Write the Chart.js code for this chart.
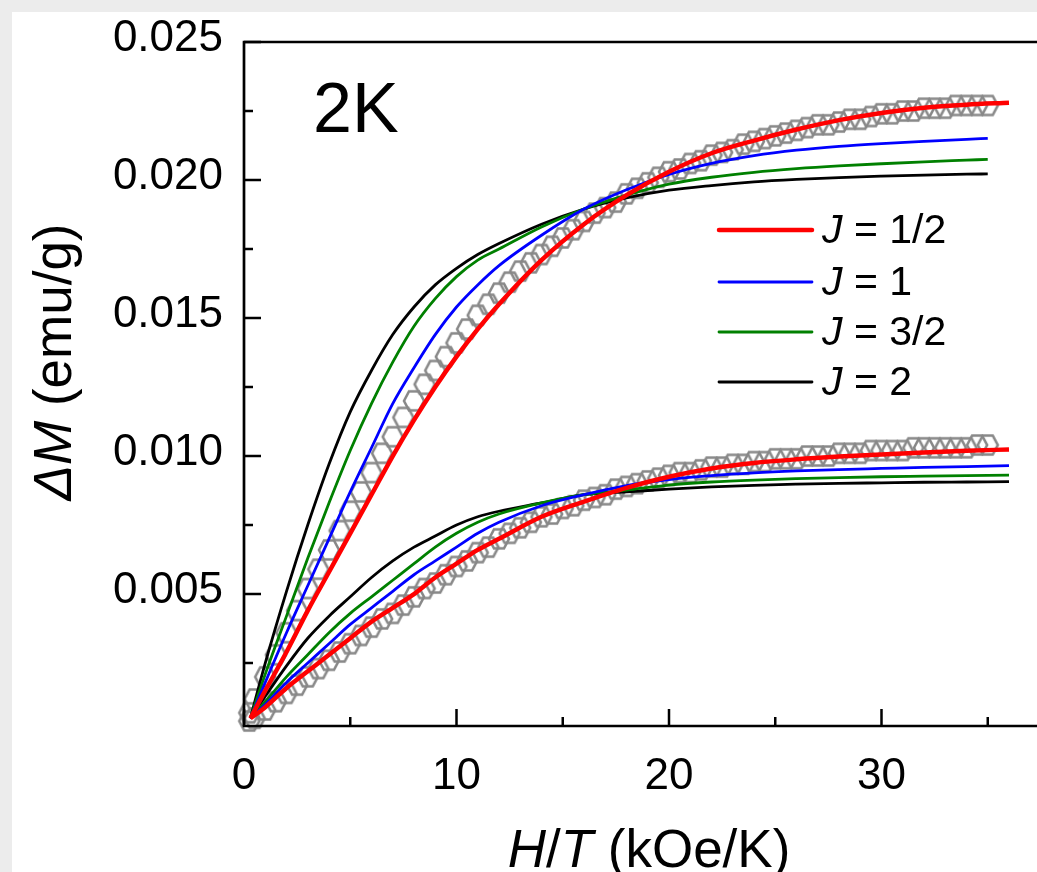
<!DOCTYPE html>
<html><head><meta charset="utf-8">
<script src="https://cdn.jsdelivr.net/npm/chart.js@4.4.1/dist/chart.umd.min.js"></script>
<style>
html,body{margin:0;padding:0;background:#fff;overflow:hidden;width:1037px;height:872px;}
#wrap{position:relative;width:1037px;height:872px;overflow:hidden;}
#c{position:absolute;left:0;top:0;width:1100px;height:872px;}
</style></head><body>
<div id="wrap"><canvas id="c" width="1100" height="872"></canvas></div>
<script>
// ---- data ----
const fieldX = [0.25,0.5,1,1.5,2,2.5,3,3.5,4,4.5,5,5.5,6,6.5,7,7.5,8,8.5,9,9.5,
  10,10.5,11,11.5,12,12.5,13,13.5,14,14.5,15,15.5,16,16.5,17,17.5,18,18.5,19,19.5,
  20,20.5,21,21.5,22,22.5,23,23.5,24,24.5,25,25.5,26,26.5,27,27.5,28,28.5,29,29.5,
  30,30.5,31,31.5,32,32.5,33,33.5,34,34.5,35];
const upperData = [0.0007,0.0012,0.0020,0.0028,0.0036,0.0044,0.0052,0.0059,0.0066,0.0073,
  0.0080,0.0087,0.0094,0.0101,0.0107,0.0114,0.0120,0.0126,0.0131,0.0136,
  0.0141,0.0146,0.0151,0.0155,0.0159,0.0163,0.0167,0.0170,0.0173,0.0176,
  0.0179,0.0182,0.0185,0.0188,0.0190,0.0192,0.0195,0.0197,0.0199,0.0201,
  0.0203,0.0204,0.0206,0.0207,0.0209,0.0210,0.0211,0.0213,0.0214,0.0215,
  0.0216,0.0217,0.0218,0.0219,0.0220,0.0220,0.0221,0.0222,0.0222,0.0223,
  0.0224,0.0224,0.0225,0.0225,0.0226,0.0226,0.0226,0.0227,0.0227,0.0227,0.0227];
const lowerData = [0.0004,0.0005,0.0008,0.0011,0.0014,0.0017,0.0020,0.0023,0.0026,0.0029,
  0.0032,0.0035,0.0038,0.0041,0.0043,0.0046,0.0049,0.0052,0.0054,0.0057,
  0.0060,0.0062,0.0065,0.0067,0.0070,0.0072,0.0074,0.0076,0.0078,0.0079,
  0.0081,0.0082,0.0084,0.0085,0.0086,0.0088,0.0089,0.0090,0.0091,0.0092,
  0.0093,0.0094,0.0094,0.0095,0.0096,0.0096,0.0097,0.0097,0.0098,0.0098,
  0.0099,0.0099,0.0099,0.0100,0.0100,0.0100,0.0101,0.0101,0.0101,0.0102,
  0.0102,0.0102,0.0102,0.0103,0.0103,0.0103,0.0103,0.0103,0.0103,0.0104,0.0104];

const fitX36 = [0.3,1,2,3,4,5,6,7,8,9,10,11,12,14,16,18,20,22,24,26,28,30,32,34,36];
const fitX35 = [0.3,1,2,3,4,5,6,7,8,9,10,11,12,14,16,18,20,22,24,26,28,30,32,34,35];

const upperJhalf = [0.0005,0.0015,0.0029,0.0044,0.0058,0.0072,0.0086,0.0100,0.0113,0.0125,0.0136,0.0146,0.0155,0.0171,0.0184,0.01945,0.0203,0.02097,0.02143,0.02183,0.02217,0.02243,0.02262,0.02273,0.0228];
const upperJ1 = [0.0005,0.0018,0.0036,0.0053,0.0070,0.0087,0.0103,0.0119,0.0132,0.0144,0.0154,0.0162,0.0169,0.0180,0.01895,0.01965,0.0202,0.0206,0.02088,0.02108,0.02122,0.02132,0.0214,0.02147,0.02151];
const upperJ3half = [0.0005,0.0021,0.0042,0.0063,0.0083,0.0102,0.0119,0.0134,0.0147,0.0157,0.0165,0.0171,0.0175,0.0183,0.01895,0.01945,0.01985,0.0201,0.02028,0.02041,0.02051,0.02059,0.02066,0.02072,0.02075];
const upperJ2 = [0.0005,0.0025,0.0051,0.0075,0.0097,0.0116,0.0131,0.0144,0.0154,0.0162,0.0168,0.0173,0.0177,0.0184,0.01895,0.01935,0.01963,0.0198,0.01993,0.02002,0.02009,0.02014,0.02018,0.02021,0.02022];

const lowerJhalf = [0.0005,0.0009,0.0016,0.0022,0.0028,0.0034,0.0040,0.0045,0.0050,0.0056,0.0061,0.0066,0.0070,0.0078,0.00835,0.00885,0.00925,0.00955,0.00975,0.00988,0.00998,0.01006,0.01013,0.01019,0.01024];
const lowerJ1 = [0.0005,0.0010,0.0018,0.0025,0.0032,0.0039,0.0045,0.0051,0.0057,0.0062,0.0067,0.0072,0.0076,0.0082,0.0086,0.00893,0.00915,0.00929,0.00939,0.00946,0.00951,0.00955,0.00959,0.00962,0.00965];
const lowerJ3half = [0.0005,0.0011,0.0020,0.0028,0.0036,0.0043,0.0049,0.0055,0.0061,0.0067,0.0072,0.0076,0.0079,0.0083,0.0086,0.00877,0.00895,0.00906,0.00913,0.00918,0.00922,0.00925,0.00927,0.00929,0.00931];
const lowerJ2 = [0.0005,0.0013,0.0024,0.0034,0.0042,0.0049,0.0056,0.0062,0.0067,0.0071,0.0075,0.0078,0.0080,0.0083,0.0086,0.0087,0.0088,0.00888,0.00894,0.00898,0.00901,0.00903,0.00905,0.00906,0.00907];

const xTickLabels = [0, 10, 20, 30];
const xMinorTicks = [5, 15, 25, 35];
const yTickLabels = [0.005, 0.010, 0.015, 0.020, 0.025];
const yMinorTicks = [0.0025, 0.0075, 0.0125, 0.0175, 0.0225];
const legendLabels = ['1/2', '1', '3/2', '2'];
const legendColors = ['#ff0000', '#0000ff', '#008000', '#000000'];

// ---- styling ----
const FONT = "'Liberation Sans', Arial, sans-serif";
Chart.defaults.font.family = FONT;
Chart.defaults.color = '#000';

function makeHex() {
  const c = document.createElement('canvas');
  c.width = 26; c.height = 26;
  const g = c.getContext('2d');
  g.strokeStyle = '#888888'; g.lineWidth = 2.6;
  const cx = 13, cy = 13, rx = 10, ry = 9.5;
  g.beginPath();
  g.moveTo(cx - rx, cy); g.lineTo(cx - rx / 2, cy - ry); g.lineTo(cx + rx / 2, cy - ry);
  g.lineTo(cx + rx, cy); g.lineTo(cx + rx / 2, cy + ry); g.lineTo(cx - rx / 2, cy + ry);
  g.closePath(); g.stroke();
  return c;
}
const hex = makeHex();
const pts = (xs, ys) => xs.map((x, i) => ({ x: x, y: ys[i] }));

function fit(xs, ys, color, w, ord) {
  return { data: pts(xs, ys), borderColor: color, backgroundColor: color, borderWidth: w,
    pointRadius: 0, cubicInterpolationMode: 'monotone', fill: false, order: ord };
}
function markers(ys) {
  return { data: pts(fieldX, ys), showLine: false, pointStyle: hex, pointRadius: 10,
    borderColor: '#888888', backgroundColor: 'transparent', order: 10, clip: false };
}

function drawRich(ctx, parts, x, y, size, align) {
  let total = 0;
  parts.forEach(p => { ctx.font = (p[1] ? 'italic ' : '') + size + 'px ' + FONT; total += ctx.measureText(p[0]).width; });
  let cx = align === 'center' ? x - total / 2 : x;
  ctx.textAlign = 'left';
  parts.forEach(p => { ctx.font = (p[1] ? 'italic ' : '') + size + 'px ' + FONT; ctx.fillText(p[0], cx, y); cx += ctx.measureText(p[0]).width; });
}

const framePlugin = {
  id: 'frame',
  beforeDraw(chart) {
    const ctx = chart.ctx;
    ctx.save();
    ctx.fillStyle = '#ececec'; ctx.fillRect(0, 0, chart.width, chart.height);
    ctx.fillStyle = '#ffffff'; ctx.fillRect(12, 12, chart.width, chart.height);
    ctx.restore();
  },
  afterDatasetsDraw(chart) {
    const ctx = chart.ctx, a = chart.chartArea, xs = chart.scales.x, ys = chart.scales.y;
    ctx.save();
    ctx.strokeStyle = '#000'; ctx.lineWidth = 2.7; ctx.lineCap = 'butt';
    ctx.beginPath();
    ctx.moveTo(a.left, a.top); ctx.lineTo(a.left, a.bottom);
    ctx.moveTo(a.left - 1.3, a.bottom); ctx.lineTo(a.right, a.bottom);
    ctx.moveTo(a.left - 1.3, a.top); ctx.lineTo(a.right, a.top);
    ctx.stroke();
    ctx.lineWidth = 2.5;
    ctx.beginPath();
    yTickLabels.forEach(v => { const p = ys.getPixelForValue(v); ctx.moveTo(a.left, p); ctx.lineTo(a.left + 17, p); });
    yMinorTicks.forEach(v => { const p = ys.getPixelForValue(v); ctx.moveTo(a.left, p); ctx.lineTo(a.left + 9, p); });
    xTickLabels.forEach(v => { const p = xs.getPixelForValue(v); ctx.moveTo(p, a.bottom); ctx.lineTo(p, a.bottom - 17); });
    xMinorTicks.forEach(v => { const p = xs.getPixelForValue(v); ctx.moveTo(p, a.bottom); ctx.lineTo(p, a.bottom - 9); });
    ctx.stroke();
    ctx.restore();
  },
  afterDraw(chart) {
    const ctx = chart.ctx;
    ctx.save();
    ctx.fillStyle = '#000';
    ctx.textBaseline = 'alphabetic';
    // panel label
    ctx.font = '70px ' + FONT; ctx.textAlign = 'left';
    ctx.fillText('2K', 313, 132);
    // x title
    drawRich(ctx, [['H', true], ['/', false], ['T', true], [' (kOe/K)', false]], 649, 867, 53, 'center');
    // y title
    ctx.save();
    ctx.translate(71, 362); ctx.rotate(-Math.PI / 2);
    drawRich(ctx, [['\u0394M', true], [' (emu/g)', false]], 0, 0, 53, 'center');
    ctx.restore();
    // legend
    const rows = [230, 282, 332, 382];
    legendLabels.forEach((lab, i) => {
      const y = rows[i];
      ctx.strokeStyle = legendColors[i];
      ctx.lineWidth = i === 0 ? 4.5 : 2.8;
      ctx.lineCap = 'round';
      ctx.beginPath(); ctx.moveTo(719, y); ctx.lineTo(812, y); ctx.stroke();
      ctx.textBaseline = 'middle';
      drawRich(ctx, [['J', true], [' = ' + lab, false]], 822, y + 2, 41, 'left');
    });
    ctx.restore();
  }
};

new Chart(document.getElementById('c'), {
  type: 'line',
  data: {
    datasets: [
      markers(upperData),
      markers(lowerData),
      fit(fitX35, upperJ2, '#000000', 2.8, 4),
      fit(fitX35, upperJ3half, '#008000', 2.8, 3),
      fit(fitX35, upperJ1, '#0000ff', 2.8, 2),
      fit(fitX36, upperJhalf, '#ff0000', 4.5, 1),
      fit(fitX36, lowerJ2, '#000000', 2.8, 4),
      fit(fitX36, lowerJ3half, '#008000', 2.8, 3),
      fit(fitX36, lowerJ1, '#0000ff', 2.8, 2),
      fit(fitX36, lowerJhalf, '#ff0000', 4.5, 1)
    ]
  },
  options: {
    responsive: false,
    animation: false,
    events: [],
    layout: { autoPadding: false, padding: { left: 0, top: 42, right: 6, bottom: 0 } },
    plugins: { legend: { display: false }, tooltip: { enabled: false }, title: { display: false } },
    scales: {
      x: {
        type: 'linear', min: 0, max: 40,
        grid: { display: false }, border: { display: false },
        afterBuildTicks(s) { s.ticks = xTickLabels.map(v => ({ value: v })); },
        afterFit(s) { s.height = 146; },
        ticks: { font: { size: 44 }, color: '#000', padding: 16, maxRotation: 0, callback: v => String(v) }
      },
      y: {
        type: 'linear', min: 0.00022, max: 0.025,
        grid: { display: false }, border: { display: false },
        afterBuildTicks(s) { s.ticks = yTickLabels.map(v => ({ value: v })); },
        afterFit(s) { s.width = 244; },
        ticks: { font: { size: 44 }, color: '#000', padding: 13, labelOffset: -3, callback: v => v.toFixed(3) }
      }
    }
  },
  plugins: [framePlugin]
});
</script>
</body></html>
